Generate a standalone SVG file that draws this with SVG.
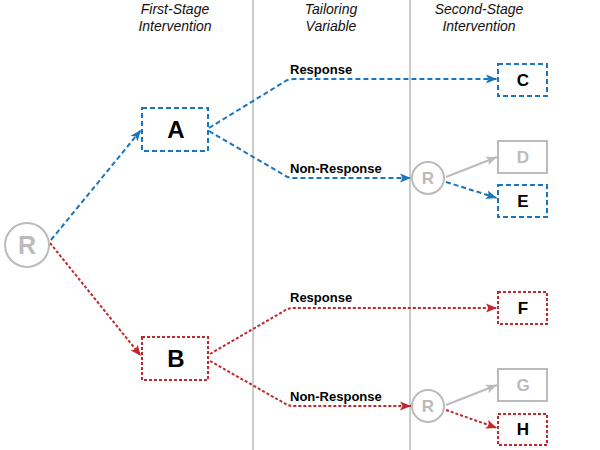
<svg xmlns="http://www.w3.org/2000/svg" width="600" height="450" viewBox="0 0 600 450">
<defs>
<style>
.hdr{font-family:"Liberation Sans",Arial,sans-serif;font-style:italic;font-size:14px;fill:#111;text-anchor:middle}
.lbl{font-family:"Liberation Sans",Arial,sans-serif;font-weight:bold;font-size:13px;fill:#000}
.big{font-family:"Liberation Sans",Arial,sans-serif;font-weight:bold;font-size:24px;fill:#000;text-anchor:middle}
.sm{font-family:"Liberation Sans",Arial,sans-serif;font-weight:bold;font-size:17px;fill:#000;text-anchor:middle}
.smg{font-family:"Liberation Sans",Arial,sans-serif;font-weight:bold;font-size:17px;fill:#bbb;text-anchor:middle}
.rnode{fill:#fff;stroke:#bbb;stroke-width:2}
.rtxt{font-family:"Liberation Sans",Arial,sans-serif;font-weight:bold;fill:#bbb;text-anchor:middle}
.bbox{fill:#fff;stroke:#1a75bc;stroke-width:2;stroke-dasharray:5,3}
.rbox{fill:#fff;stroke:#c1272d;stroke-width:2;stroke-dasharray:3,2}
.gbox{fill:#fff;stroke:#bbb;stroke-width:2}
.bl{fill:none;stroke:#1a75bc;stroke-width:2;stroke-dasharray:5,3}
.rl{fill:none;stroke:#c1272d;stroke-width:2;stroke-dasharray:3,2}
.gl{fill:none;stroke:#bbb;stroke-width:2}
.vline{stroke:#bbb;stroke-width:1.5}
</style>
<marker id="ab" markerUnits="userSpaceOnUse" markerWidth="12" markerHeight="10" refX="11" refY="5" orient="auto"><path d="M0,0.5 L11,5 L0,9.5 L2.5,5 z" fill="#1a75bc"/></marker>
<marker id="ar" markerUnits="userSpaceOnUse" markerWidth="12" markerHeight="10" refX="11" refY="5" orient="auto"><path d="M0,0.5 L11,5 L0,9.5 L2.5,5 z" fill="#c1272d"/></marker>
<marker id="ag" markerUnits="userSpaceOnUse" markerWidth="12" markerHeight="10" refX="11" refY="5" orient="auto"><path d="M0,0.5 L11,5 L0,9.5 L2.5,5 z" fill="#bbb"/></marker>
</defs>
<rect width="600" height="450" fill="#fff"/>
<g id="columns">
<line class="vline" x1="253" y1="0" x2="253" y2="450"/>
<line class="vline" x1="410" y1="0" x2="410" y2="450"/>
<text class="hdr" x="175" y="14">First-Stage</text>
<text class="hdr" x="175" y="31">Intervention</text>
<text class="hdr" x="331" y="14">Tailoring</text>
<text class="hdr" x="331" y="31">Variable</text>
<text class="hdr" x="479" y="14">Second-Stage</text>
<text class="hdr" x="479" y="31">Intervention</text>
</g>
<g id="connectors">
<path class="bl" d="M51,240 L141,130" marker-end="url(#ab)"/>
<path class="rl" d="M50,243 L141,356" marker-end="url(#ar)"/>
<path class="bl" d="M209,128 L284,82 Q288,79 294,79 L497,79" marker-end="url(#ab)"/>
<path class="bl" d="M209,131 L284,175 Q288,178 294,178 L411,178" marker-end="url(#ab)"/>
<path class="gl" d="M446,177 L497,157" marker-end="url(#ag)"/>
<path class="bl" d="M446,182 L497,198" marker-end="url(#ab)"/>
<path class="rl" d="M210,354 L284,311 Q288,308 294,308 L497,308" marker-end="url(#ar)"/>
<path class="rl" d="M210,361 L284,403 Q288,406 294,406 L411,406" marker-end="url(#ar)"/>
<path class="gl" d="M446,405 L497,385" marker-end="url(#ag)"/>
<path class="rl" d="M446,410 L497,428" marker-end="url(#ar)"/>
<text class="lbl" x="290" y="74">Response</text>
<text class="lbl" x="290" y="173">Non-Response</text>
<text class="lbl" x="290" y="302">Response</text>
<text class="lbl" x="290" y="401">Non-Response</text>
</g>
<g id="R1"><circle class="rnode" cx="27" cy="245" r="22"/><text class="rtxt" x="27" y="254" font-size="25">R</text></g>
<g id="R2"><circle class="rnode" cx="428" cy="178" r="16"/><text class="rtxt" x="428" y="184" font-size="17">R</text></g>
<g id="R3"><circle class="rnode" cx="428" cy="406" r="16"/><text class="rtxt" x="428" y="412" font-size="17">R</text></g>
<g id="A"><rect class="bbox" x="142" y="108" width="66" height="43"/><text class="big" x="176" y="138">A</text></g>
<g id="B"><rect class="rbox" x="142" y="337" width="66" height="43"/><text class="big" x="176" y="367">B</text></g>
<g id="C"><rect class="bbox" x="498" y="64" width="49" height="32"/><text class="sm" x="523" y="86">C</text></g>
<g id="D"><rect class="gbox" x="498" y="141" width="49" height="32"/><text class="smg" x="523" y="163">D</text></g>
<g id="E"><rect class="bbox" x="498" y="185" width="49" height="32"/><text class="sm" x="523" y="207">E</text></g>
<g id="F"><rect class="rbox" x="498" y="292" width="49" height="32"/><text class="sm" x="523" y="314">F</text></g>
<g id="G"><rect class="gbox" x="498" y="369" width="49" height="32"/><text class="smg" x="523" y="391">G</text></g>
<g id="H"><rect class="rbox" x="498" y="414" width="49" height="31"/><text class="sm" x="523" y="435">H</text></g>
</svg>
